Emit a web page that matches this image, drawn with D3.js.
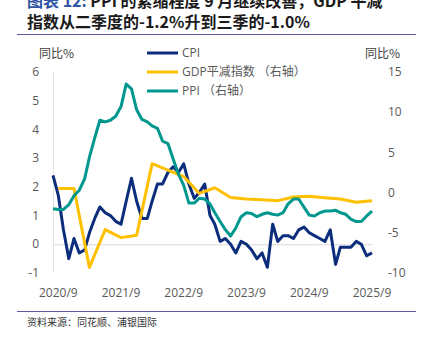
<!DOCTYPE html>
<html>
<head>
<meta charset="utf-8">
<script src="https://cdn.jsdelivr.net/npm/d3@7"></script>
<style>
  body { margin: 0; background: #fff; }
  text { font-family: "Open Sans", "Noto Sans CJK SC", sans-serif; }
  .cjk { font-family: "Noto Sans CJK SC", sans-serif; }
</style>
</head>
<body>
<div id="chart"></div>
<script>
// months 2020/8 .. 2025/9
var months = [
  "2020-08","2020-09","2020-10","2020-11","2020-12",
  "2021-01","2021-02","2021-03","2021-04","2021-05","2021-06","2021-07","2021-08","2021-09","2021-10","2021-11","2021-12",
  "2022-01","2022-02","2022-03","2022-04","2022-05","2022-06","2022-07","2022-08","2022-09","2022-10","2022-11","2022-12",
  "2023-01","2023-02","2023-03","2023-04","2023-05","2023-06","2023-07","2023-08","2023-09","2023-10","2023-11","2023-12",
  "2024-01","2024-02","2024-03","2024-04","2024-05","2024-06","2024-07","2024-08","2024-09","2024-10","2024-11","2024-12",
  "2025-01","2025-02","2025-03","2025-04","2025-05","2025-06","2025-07","2025-08","2025-09"
];
var cpi = [
  2.4, 1.7, 0.5, -0.5, 0.2,
  -0.3, -0.2, 0.4, 0.9, 1.3, 1.1, 1.0, 0.8, 0.7, 1.5, 2.3, 1.5,
  0.9, 0.9, 1.5, 2.1, 2.1, 2.5, 2.7, 2.5, 2.8, 2.1, 1.6, 1.8,
  2.1, 1.0, 0.7, 0.1, 0.2, 0.0, -0.3, 0.1, 0.0, -0.2, -0.5, -0.3,
  -0.8, 0.7, 0.1, 0.3, 0.3, 0.2, 0.5, 0.6, 0.4, 0.3, 0.2, 0.1,
  0.5, -0.7, -0.1, -0.1, -0.1, 0.1, 0.0, -0.4, -0.3
];
var ppi = [
  -2.0, -2.1, -2.1, -1.5, -0.4,
  0.3, 1.7, 4.4, 6.8, 9.0, 8.8, 9.0, 9.5, 10.7, 13.5, 12.9, 10.3,
  9.1, 8.8, 8.3, 8.0, 6.4, 6.1, 4.2, 2.3, 0.9, -1.3, -1.3, -0.7,
  -0.8, -1.4, -2.5, -3.6, -4.6, -5.4, -4.4, -3.0, -2.5, -2.6, -3.0, -2.7,
  -2.5, -2.7, -2.8, -2.5, -1.4, -0.8, -0.8, -1.8, -2.8, -2.9, -2.5, -2.3,
  -2.3, -2.2, -2.5, -2.7, -3.3, -3.6, -3.6, -2.9, -2.3
];
// quarterly GDP deflator
var quarters = [
  "2020-09","2020-12","2021-03","2021-06","2021-09","2021-12","2022-03","2022-06","2022-09","2022-12",
  "2023-03","2023-06","2023-09","2023-12","2024-03","2024-06","2024-09","2024-12","2025-03","2025-06","2025-09"
];
var gdpDeflator = [
  0.5, 0.5, -9.3, -4.6, -5.6, -5.3, 3.6, 2.8, 2.0, -0.1,
  0.6, -0.6, -0.8, -0.9, -1.0, -0.55, -0.45, -0.65, -0.8, -1.2, -1.0
];
var xTicks = ["2020-09","2021-09","2022-09","2023-09","2024-09","2025-09"];
var leftTicks = [6, 5, 4, 3, 2, 1, 0, -1];
var rightTicks = [15, 10, 5, 0, -5, -10];

var width = 426, height = 340;
var parse = d3.timeParse("%Y-%m");
var fmt = d3.timeFormat("%Y/%-m");

var svg = d3.select("#chart").append("svg")
    .attr("width", width)
    .attr("height", height);

var x = d3.scaleTime()
    .domain([parse(months[0]), parse(months[months.length - 1])])
    .range([53, 372]);
var yL = d3.scaleLinear().domain([-1, 6]).range([273, 72]);
var yR = d3.scaleLinear().domain([-10, 15]).range([273, 72]);

// title
var title = svg.append("text")
    .attr("class", "cjk")
    .attr("x", 27).attr("y", 7)
    .style("font-size", "16px").style("font-weight", "bold");
title.append("tspan").attr("fill", "#2f55a4").text("图表 12: ");
title.append("tspan").attr("fill", "#1a1a1a").text("PPI 的紧缩程度 9 月继续改善，GDP 平减");
svg.append("text")
    .attr("class", "cjk")
    .attr("x", 27).attr("y", 28)
    .attr("fill", "#1a1a1a")
    .style("font-size", "16px").style("font-weight", "bold")
    .text("指数从二季度的-1.2%升到三季的-1.0%");

svg.append("line")
    .attr("x1", 17).attr("x2", 416).attr("y1", 34.5).attr("y2", 34.5)
    .attr("stroke", "#5c5a9c").attr("stroke-width", 1);

// axes (drawn by hand, Excel style)
svg.append("line")
    .attr("x1", 53.5).attr("x2", 53.5).attr("y1", yL(6)).attr("y2", yL(-1))
    .attr("stroke", "#e4e4e4").attr("stroke-width", 1);
svg.append("line")
    .attr("x1", 53).attr("x2", 372).attr("y1", yL(0) + 0.5).attr("y2", yL(0) + 0.5)
    .attr("stroke", "#d9d9d9").attr("stroke-width", 1);

svg.selectAll(".ltick").data(leftTicks).enter().append("text")
    .attr("class", "ltick")
    .attr("x", 39).attr("y", d => yL(d)).attr("dy", "0.35em")
    .attr("text-anchor", "end")
    .attr("fill", "#595959").style("font-size", "12px")
    .text(d => d);

svg.selectAll(".rtick").data(rightTicks).enter().append("text")
    .attr("class", "rtick")
    .attr("x", 388).attr("y", d => yR(d)).attr("dy", "0.35em")
    .attr("fill", "#595959").style("font-size", "12px")
    .text(d => d);

svg.selectAll(".xtick").data(xTicks).enter().append("text")
    .attr("class", "xtick")
    .attr("x", d => x(parse(d))).attr("y", 293).attr("dy", "0.35em")
    .attr("text-anchor", "middle")
    .attr("fill", "#595959").style("font-size", "12px")
    .text(d => fmt(parse(d)));

svg.append("text").attr("class", "cjk")
    .attr("x", 39).attr("y", 54).attr("dy", "0.35em")
    .attr("fill", "#404040").style("font-size", "12px").text("同比%");
svg.append("text").attr("class", "cjk")
    .attr("x", 400).attr("y", 54).attr("dy", "0.35em").attr("text-anchor", "end")
    .attr("fill", "#404040").style("font-size", "12px").text("同比%");

// lines
var series = [
  {name: "CPI", color: "#0b2d7c", dates: months, vals: cpi, y: yL},
  {name: "GDP平减指数 （右轴）", color: "#ffc000", dates: quarters, vals: gdpDeflator, y: yR},
  {name: "PPI （右轴）", color: "#00978f", dates: months, vals: ppi, y: yR}
];

series.forEach(function(s) {
    var line = d3.line()
        .x((d, i) => x(parse(s.dates[i])))
        .y(d => s.y(d));
    svg.append("path")
        .datum(s.vals)
        .attr("d", line)
        .attr("fill", "none")
        .attr("stroke", s.color)
        .attr("stroke-width", 3)
        .attr("stroke-linejoin", "round");
});

// legend
var leg = svg.selectAll(".leg").data(series).enter().append("g")
    .attr("class", "leg")
    .attr("transform", (d, i) => "translate(147," + (53 + i * 19) + ")");
leg.append("line")
    .attr("x1", 0).attr("x2", 31)
    .attr("stroke", d => d.color).attr("stroke-width", 3);
leg.append("text")
    .attr("x", 35).attr("dy", "0.35em")
    .attr("fill", "#595959").style("font-size", "12px")
    .text(d => d.name);

// footer
svg.append("line")
    .attr("x1", 17).attr("x2", 416).attr("y1", 311.5).attr("y2", 311.5)
    .attr("stroke", "#5c5a9c").attr("stroke-width", 1);
svg.append("text").attr("class", "cjk")
    .attr("x", 27).attr("y", 322).attr("dy", "0.35em")
    .attr("fill", "#333").style("font-size", "10px")
    .text("资料来源：同花顺、浦银国际");
</script>
</body>
</html>
